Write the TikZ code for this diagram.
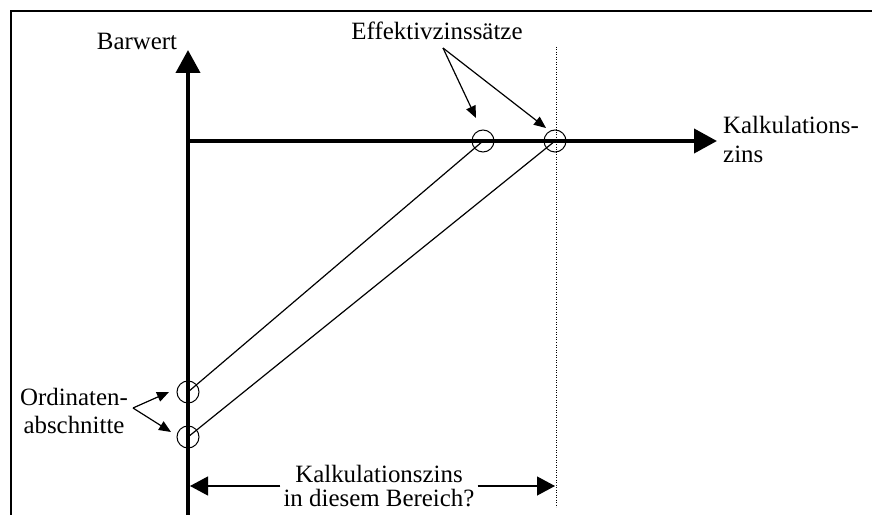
\documentclass[tikz,border=0pt]{standalone}
\usepackage{fontspec}
\setmainfont{Liberation Serif}
\usetikzlibrary{arrows.meta}
\begin{document}
\begin{tikzpicture}[x=1bp,y=-1bp,
  font=\fontsize{25}{29}\selectfont,
  axis/.style={line width=4bp,-{Triangle[length=23bp,width=24bp]}},
  pointer/.style={line width=1.2bp,-{Triangle[length=12bp,width=10bp]}},
  span/.style={line width=1.2bp,-{Triangle[length=18bp,width=19bp]}},
  ring/.style={circle,draw,line width=1bp,minimum size=22bp,inner sep=0pt},
  lbl/.style={inner sep=0pt}]
  \useasboundingbox (0,0) rectangle (872,515);
  % frame
  \draw[line width=2bp] (11,515) -- (11,11) -- (872,11);
  % axes
  \coordinate (ybot) at (188,515);
  \coordinate (ytop) at (188,50);
  \coordinate (orig) at (188,141);
  \coordinate (xend) at (717,141);
  \draw[axis] (ybot) -- (ytop);
  \draw[axis] (orig) -- (xend);
  \node[lbl,anchor=base] (barwert) at (137,50) {Barwert};
  \node[lbl,anchor=base west,align=left,font=\fontsize{25}{30}\selectfont] (kalk) at (723,163) {Kalkulations-\\zins};
  % dotted limit
  \coordinate (dtop) at (556,47);
  \coordinate (dbot) at (556,507);
  \draw[line width=1bp,dash pattern=on 1bp off 1.5bp] (dtop) -- (dbot);
  % intersections
  \node[ring] (e1) at (483,141) {};
  \node[ring] (e2) at (555,141) {};
  \node[ring] (o1) at (188,392) {};
  \node[ring] (o2) at (188,437) {};
  \draw[line width=1.2bp] (o1.center) -- (e1.center);
  \draw[line width=1.2bp] (o2.center) -- (e2.center);
  % labels with pointers
  \node[lbl,anchor=base] (effz) at (437,40) {Effektivzinssätze};
  \coordinate (ez) at (443,48);
  \draw[pointer] (ez) -- (476,118);
  \draw[pointer] (ez) -- (546,128);
  \node[lbl,anchor=base,align=center,font=\fontsize{25}{28}\selectfont] (ordin) at (74,433) {Ordinaten-\\abschnitte};
  \coordinate (oz) at (133,408);
  \draw[pointer] (oz) -- (169,392);
  \draw[pointer] (oz) -- (171,432);
  % range
  \node[align=center,inner sep=3bp,font=\fontsize{25}{24}\selectfont] (bereich) at (379,486)
    {Kalkulationszins\\in diesem Bereich?};
  \coordinate (rl) at (190,486);
  \coordinate (rr) at (555,486);
  \draw[span] (bereich.west) -- (rl);
  \draw[span] (bereich.east) -- (rr);
\end{tikzpicture}
\end{document}
